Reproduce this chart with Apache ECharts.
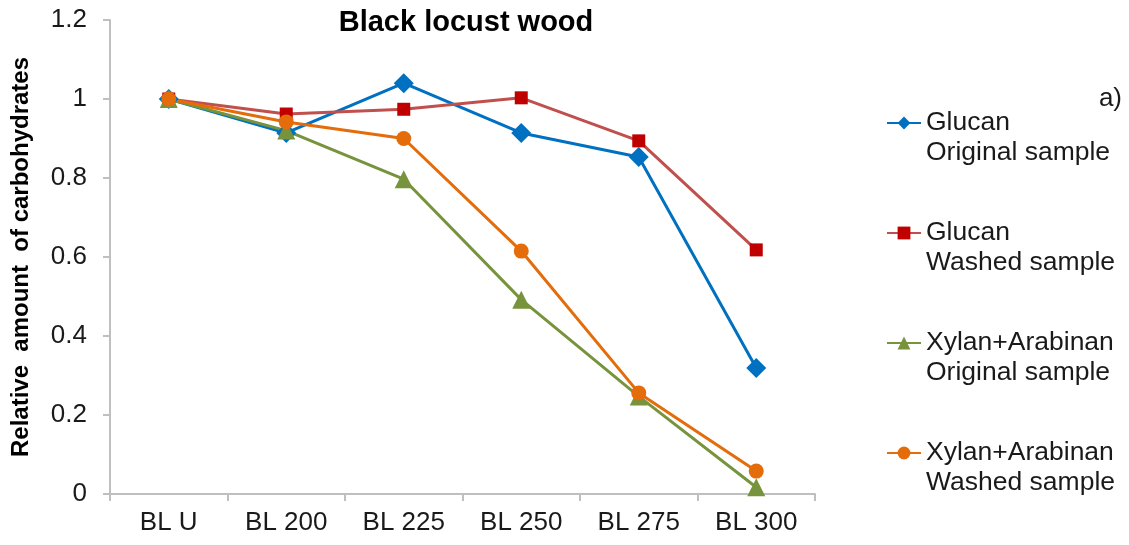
<!DOCTYPE html>
<html>
<head>
<meta charset="utf-8">
<script src="https://cdn.jsdelivr.net/npm/echarts@6/dist/echarts.min.js"></script>
<style>
html,body{margin:0;padding:0;background:#fff;}
#chart{width:1129px;height:545px;}
</style>
</head>
<body>
<div id="chart"></div>
<script>
const categories = ['BL U', 'BL 200', 'BL 225', 'BL 250', 'BL 275', 'BL 300'];
const glucanOriginal = [1.0, 0.914, 1.04, 0.914, 0.853, 0.319];
const glucanWashed = [1.0, 0.962, 0.974, 1.003, 0.894, 0.618];
const xylanOriginal = [1.0, 0.92, 0.797, 0.492, 0.247, 0.017];
const xylanWashed = [1.0, 0.942, 0.9, 0.615, 0.256, 0.058];
const seriesNames = [
  'Glucan\nOriginal sample',
  'Glucan\nWashed sample',
  'Xylan+Arabinan\nOriginal sample',
  'Xylan+Arabinan\nWashed sample'
];
const titleText = 'Black locust wood';
const yAxisName = 'Relative  amount  of carbohydrates';
const panelLabel = 'a)';

const chart = echarts.init(document.getElementById('chart'), null, {renderer: 'canvas'});
const font = 'Liberation Sans, Arial, sans-serif';

function lineSeries(name, data, symbol, size, lineColor, markerColor) {
  return {
    name: name,
    type: 'line',
    data: data,
    symbol: symbol,
    symbolSize: size,
    showAllSymbol: true,
    lineStyle: {color: lineColor, width: 3},
    itemStyle: {color: markerColor},
    emphasis: {disabled: true}
  };
}

chart.setOption({
  animation: false,
  backgroundColor: '#ffffff',
  title: {
    text: titleText,
    left: 461,
    textAlign: 'center',
    top: 3,
    textStyle: {fontFamily: font, fontWeight: 'bold', fontSize: 29, color: '#000'}
  },
  grid: {left: 110, right: 314, top: 20, bottom: 51, containLabel: false},
  legend: {
    orient: 'vertical',
    left: 886,
    top: 78,
    padding: 0,
    itemGap: 20,
    itemWidth: 34,
    itemHeight: 16,
    formatter: function (n) { return '\n' + n; },
    textStyle: {fontFamily: font, fontSize: 26.5, color: '#1a1a1a', lineHeight: 30},
    data: seriesNames
  },
  xAxis: {
    type: 'category',
    data: categories,
    boundaryGap: true,
    axisLine: {lineStyle: {color: '#bfbfbf', width: 2}},
    axisTick: {show: true, length: 7, lineStyle: {color: '#bfbfbf', width: 2}},
    axisLabel: {margin: 16, fontFamily: font, fontSize: 26, color: '#1a1a1a'}
  },
  yAxis: {
    type: 'value',
    min: 0,
    max: 1.2,
    interval: 0.2,
    name: yAxisName,
    nameLocation: 'middle',
    nameGap: 77,
    nameRotate: 90,
    nameTextStyle: {fontFamily: font, fontWeight: 'bold', fontSize: 24, color: '#000'},
    axisLine: {show: true, lineStyle: {color: '#bfbfbf', width: 2}},
    axisTick: {show: true, length: 7, lineStyle: {color: '#bfbfbf', width: 2}},
    splitLine: {show: false},
    axisLabel: {
      margin: 23,
      fontFamily: font,
      fontSize: 26,
      color: '#1a1a1a',
      formatter: function (v) { return String(Math.round(v * 10) / 10); }
    }
  },
  graphic: [{
    type: 'text',
    right: 7,
    top: 86,
    style: {text: panelLabel, fontFamily: font, fontSize: 26, fill: '#1a1a1a'}
  }],
  series: [
    lineSeries(seriesNames[0], glucanOriginal, 'diamond', 20, '#0070c0', '#0070c0'),
    lineSeries(seriesNames[1], glucanWashed, 'rect', 13, '#c0504d', '#c00000'),
    lineSeries(seriesNames[2], xylanOriginal, 'triangle', 18, '#77933c', '#77933c'),
    lineSeries(seriesNames[3], xylanWashed, 'circle', 15, '#e46c0a', '#e46c0a')
  ]
});
</script>
</body>
</html>
